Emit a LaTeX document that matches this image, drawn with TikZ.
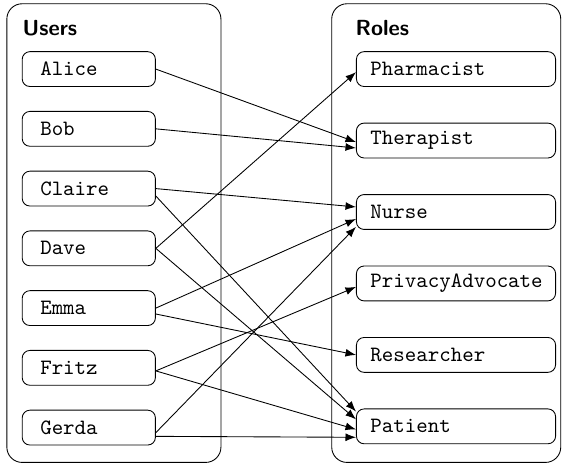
\documentclass[tikz,border=0pt]{standalone}
\usepackage{tikz}
\usetikzlibrary{arrows.meta,positioning}
\begin{document}
\begin{tikzpicture}[>=Latex,
 grp/.style={draw,rounded corners=7pt},
 head/.style={font=\sffamily\bfseries,anchor=west},
 user/.style={draw,rounded corners=3.5pt,minimum height=0.56cm,inner xsep=0.29cm,
   text width=1.56cm,align=left,font=\ttfamily},
 role/.style={draw,rounded corners=3.5pt,minimum height=0.56cm,inner xsep=0.225cm,
   text width=2.75cm,align=left,font=\ttfamily}]
\useasboundingbox (0,0) rectangle (9.03,-7.49);
\draw[grp] (0.11,-0.06) rectangle (3.55,-7.43);
\draw[grp] (5.33,-0.06) rectangle (9.01,-7.43);
\node[head] (users) at (0.24,-0.45) {Users};
\node[head] (roles) at (5.59,-0.45) {Roles};
% users
\node[user,anchor=west] (alice) at (0.35,-1.11) {Alice};
\node[user,below=0.386cm of alice] (bob) {Bob};
\node[user,below=0.386cm of bob] (claire) {Claire};
\node[user,below=0.386cm of claire] (dave) {Dave};
\node[user,below=0.386cm of dave] (emma) {Emma};
\node[user,below=0.386cm of emma] (fritz) {Fritz};
\node[user,below=0.386cm of fritz] (gerda) {Gerda};
% roles
\node[role,anchor=west] (pharm) at (5.72,-1.11) {Pharmacist};
\node[role,below=0.574cm of pharm] (ther) {Therapist};
\node[role,below=0.574cm of ther] (nurse) {Nurse};
\node[role,below=0.574cm of nurse] (priv) {PrivacyAdvocate};
\node[role,below=0.574cm of priv] (res) {Researcher};
\node[role,below=0.574cm of res] (pat) {Patient};
% assignments
\draw[->] (alice.east) -- ([yshift=-0.7pt]ther.west);
\draw[->] (bob.east) -- ([yshift=-3.4pt]ther.west);
\draw[->] (claire.east) -- ([yshift=2.3pt]nurse.west);
\draw[->] ([yshift=-3.4pt]claire.east) -- ([yshift=6.8pt]pat.west);
\draw[->] (dave.east) -- ([yshift=-1.4pt]pharm.west);
\draw[->] (dave.east) -- ([yshift=3.2pt]pat.west);
\draw[->] (emma.east) -- ([yshift=-3.2pt]nurse.west);
\draw[->] ([yshift=-2.7pt]emma.east) -- (res.west);
\draw[->] ([yshift=-1.4pt]fritz.east) -- ([yshift=-1.6pt]priv.west);
\draw[->] ([yshift=-1.4pt]fritz.east) -- ([yshift=-1.4pt]pat.west);
\draw[->] ([yshift=-2.3pt]gerda.east) -- ([yshift=-6.8pt]nurse.west);
\draw[->] ([yshift=-4pt]gerda.east) -- ([yshift=-5pt]pat.west);
\end{tikzpicture}
\end{document}
